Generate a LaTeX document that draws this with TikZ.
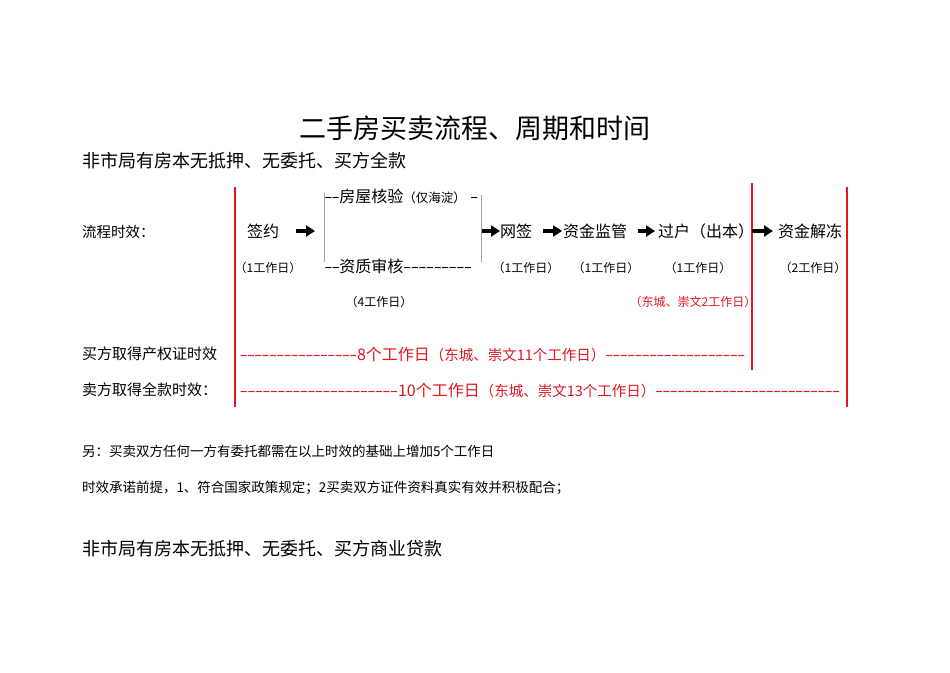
\documentclass[tikz,border=0pt]{standalone}
\usepackage{fontspec}
\setmainfont{Noto Sans CJK SC}
\usetikzlibrary{arrows.meta}
\definecolor{rd}{RGB}{226,22,32}
\definecolor{gr}{RGB}{165,165,165}
\newcommand{\fs}[1]{\fontsize{#1}{#1}\selectfont}
\newcommand{\hyph}{\hbox to 0.45em{\hss\scalebox{1.5}[1]{-}\hss}}
\newcommand{\dashfill}{\xleaders\hyph}
\begin{document}
\begin{tikzpicture}[x=1pt,y=-1pt,
  every node/.style={inner sep=0pt,outer sep=0pt},
  stepbox/.style={font=\fs{16}},
  daybox/.style={font=\fs{12}},
  rowlab/.style={anchor=west,font=\fs{15}},
  note/.style={anchor=west,font=\fs{13.5}},
  redline/.style={rd,line width=2pt},
  bracket/.style={gr,line width=0.8pt},
  blk/.style={line width=4pt,-{Triangle[length=9pt,width=11pt]}}]
\useasboundingbox[fill=white] (0,0) rectangle (950,672);

\node (title) at (475,128) {\fs{27}二手房买卖流程、周期和时间};
\node[anchor=west,font=\fs{18}] (sub1) at (82,161) {非市局有房本无抵押、无委托、买方全款};
\node[anchor=west,font=\fs{14.5}] (lcsx) at (82,232) {流程时效：};

% red bars
\draw[redline] (235,187) -- (235,407);
\draw[redline] (752,183) -- (752,370);
\draw[redline] (847,187) -- (847,407);

% steps
\node[stepbox,anchor=west] (qy) at (247,231) {签约};
\node[anchor=west,font=\fs{16}] (hy) at (325,196) {\hbox to 153pt{\hyph\hyph 房屋核验{\fs{12.5}（仅海淀）}\hfill\hyph}};
\node[anchor=west,font=\fs{16}] (zz) at (325,266) {\hbox to 147pt{\hyph\hyph 资质审核\dashfill\hfill}};
\coordinate (brL) at (324,231);
\coordinate (brR) at (481,231);
\draw[bracket] (324,193) -- (324,262);
\draw[bracket] (481,195) -- (481,262);
\node[stepbox,anchor=west] (wq) at (500,231) {网签};
\node[stepbox,anchor=west] (jg) at (563,231) {资金监管};
\node[stepbox,anchor=west] (gh) at (658,231) {过户（出本）};
\node[stepbox,anchor=west] (jd) at (778,231) {资金解冻};

% arrows
\draw[blk,shorten <=17pt,shorten >=9pt] (qy.east) -- (brL);
\draw[blk,shorten <=1pt] (brR) -- (wq.west);
\draw[blk,shorten <=11pt,shorten >=1pt] (wq.east) -- (jg.west);
\draw[blk,shorten <=11pt,shorten >=3pt] (jg.east) -- (gh.west);
\draw[blk,shorten <=-2pt,shorten >=5pt] (gh.east) -- (jd.west);

% day labels
\node[daybox] (d1) at (268,268) {（1工作日）};
\node[daybox] (d2) at (379,302) {（4工作日）};
\node[daybox] (d3) at (526,268) {（1工作日）};
\node[daybox] (d4) at (606,268) {（1工作日）};
\node[daybox] (d5) at (698,268) {（1工作日）};
\node[daybox] (d6) at (813,268) {（2工作日）};
\node[daybox,text=rd] (d7) at (693,302) {（东城、崇文2工作日）};

% rows
\node[rowlab] (buy) at (82,354) {买方取得产权证时效};
\node[anchor=west,text=rd,font=\fs{16}] (buyt) at (240,354)
  {\hbox to 505pt{\dashfill\hskip 117pt 8个工作日{\fs{14.5}（东城、崇文11个工作日）}\dashfill\hfill}};
\node[rowlab] (sell) at (82,390) {卖方取得全款时效：};
\node[anchor=west,text=rd,font=\fs{16}] (sellt) at (240,390)
  {\hbox to 600pt{\dashfill\hskip 158pt 10个工作日{\fs{14.5}（东城、崇文13个工作日）}\dashfill\hfill}};

% notes
\node[note] (n1) at (82,451) {另：买卖双方任何一方有委托都需在以上时效的基础上增加5个工作日};
\node[note] (n2) at (82,488) {时效承诺前提，1、符合国家政策规定；2买卖双方证件资料真实有效并积极配合；};
\node[anchor=west,font=\fs{18}] (sub2) at (82,549) {非市局有房本无抵押、无委托、买方商业贷款};
\end{tikzpicture}
\end{document}
